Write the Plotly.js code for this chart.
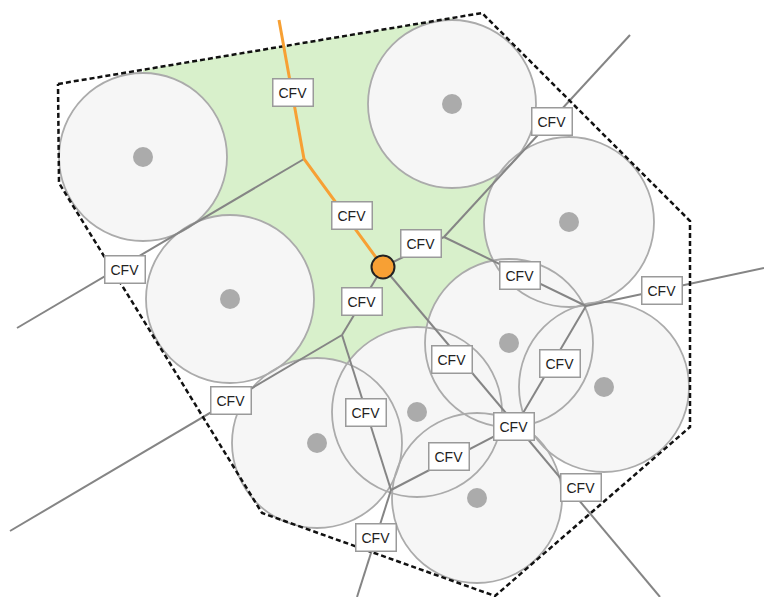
<!DOCTYPE html>
<html>
<head>
<meta charset="utf-8">
<script src="https://cdn.plot.ly/plotly-3.0.1.min.js"></script>
<style>html,body{margin:0;padding:0;background:#fff;}#chart{width:764px;height:597px;}</style>
</head>
<body>
<div id="chart"></div>
<script>
// Sensor disks (centre, radius)
const circleX = [143, 452, 569, 230, 509, 604, 417, 317, 477];
const circleY = [157, 104, 222, 299, 343, 387, 412, 443, 498];
const circleR = [84, 84, 85, 84, 84, 85, 85, 85, 85];
const dotR = 10;

// Dashed boundary (convex hull)
const hullX = [58, 482, 690, 690, 495, 262, 59, 58];
const hullY = [84, 13, 221, 427, 596, 513, 183, 84];

// Green uncovered region (bounded by hull and disk centres)
const greenX = [143, 452, 452, 569, 509, 417, 317, 230, 143];
const greenY = [70, 18, 104, 222, 343, 412, 443, 299, 157];

// Graph nodes
const nodeNames = ['T', 'A', 'O', 'B', 'C', 'D', 'E', 'F', 'NE', 'EAST', 'W1', 'W2', 'S1', 'S2'];
const nodeX = [279, 304, 383, 444, 342, 516, 391, 586, 630, 764, 17, 10, 357, 660];
const nodeY = [20, 159, 267, 237, 335, 425, 490, 306, 35, 268, 328, 531, 597, 597];

// Orange path and gray edges
const orangePath = ['T', 'A', 'O'];
const edgeFrom = ['A', 'O', 'B', 'B', 'F', 'F', 'O', 'O', 'C', 'C', 'E', 'E', 'D'];
const edgeTo   = ['W1', 'B', 'NE', 'F', 'EAST', 'D', 'D', 'C', 'W2', 'E', 'D', 'S1', 'S2'];

// CFV labels
const labelText = 'CFV';
const labelX = [293, 352, 421, 362, 452, 520, 366, 514, 449, 376, 581, 560, 662, 552, 125, 231];
const labelY = [92, 215, 243, 301, 359, 275, 412, 426, 456, 537, 487, 363, 290, 121, 269, 400];

const idx = n => nodeNames.indexOf(n);

const shapes = [];
// green region
let gp = 'M ' + greenX[0] + ',' + greenY[0];
for (let i = 1; i < greenX.length; i++) gp += ' L ' + greenX[i] + ',' + greenY[i];
gp += ' Z';
shapes.push({type: 'path', path: gp, xref: 'x', yref: 'y', layer: 'below',
  fillcolor: 'rgb(216,240,203)', line: {width: 0}});
// disk fills
for (let i = 0; i < circleX.length; i++) {
  shapes.push({type: 'circle', xref: 'x', yref: 'y', layer: 'below',
    x0: circleX[i] - circleR[i], x1: circleX[i] + circleR[i],
    y0: circleY[i] - circleR[i], y1: circleY[i] + circleR[i],
    fillcolor: '#f6f6f6', line: {width: 0}});
}
// disk outlines
for (let i = 0; i < circleX.length; i++) {
  shapes.push({type: 'circle', xref: 'x', yref: 'y', layer: 'below',
    x0: circleX[i] - circleR[i], x1: circleX[i] + circleR[i],
    y0: circleY[i] - circleR[i], y1: circleY[i] + circleR[i],
    fillcolor: 'rgba(0,0,0,0)', line: {color: '#ababab', width: 1.8}});
}
// centre dots
for (let i = 0; i < circleX.length; i++) {
  shapes.push({type: 'circle', xref: 'x', yref: 'y', layer: 'below',
    x0: circleX[i] - dotR, x1: circleX[i] + dotR,
    y0: circleY[i] - dotR, y1: circleY[i] + dotR,
    fillcolor: '#ababab', line: {width: 0}});
}

const traces = [];
// gray edges
const ex = [], ey = [];
for (let i = 0; i < edgeFrom.length; i++) {
  const a = idx(edgeFrom[i]), b = idx(edgeTo[i]);
  ex.push(nodeX[a], nodeX[b], null);
  ey.push(nodeY[a], nodeY[b], null);
}
traces.push({x: ex, y: ey, mode: 'lines', line: {color: '#858585', width: 2},
  hoverinfo: 'skip', showlegend: false});
// dashed hull
traces.push({x: hullX, y: hullY, mode: 'lines',
  line: {color: '#111', width: 2.5, dash: '5px,3px'}, hoverinfo: 'skip', showlegend: false});
// orange path
traces.push({x: orangePath.map(n => nodeX[idx(n)]), y: orangePath.map(n => nodeY[idx(n)]),
  mode: 'lines', line: {color: '#f7a034', width: 3}, hoverinfo: 'skip', showlegend: false});
// orange node
traces.push({x: [nodeX[idx('O')]], y: [nodeY[idx('O')]], mode: 'markers',
  marker: {size: 23, color: '#f7a034', line: {color: '#222', width: 2}},
  hoverinfo: 'skip', showlegend: false});

const annotations = labelX.map((x, i) => ({
  x: x, y: labelY[i], xref: 'x', yref: 'y', text: labelText, showarrow: false,
  font: {family: 'Liberation Sans, Arial, sans-serif', size: 14, color: '#222'},
  bgcolor: '#ffffff', bordercolor: '#9a9a9a', borderwidth: 1.5, borderpad: 5
}));

const layout = {
  width: 764, height: 597,
  margin: {l: 0, r: 0, t: 0, b: 0},
  paper_bgcolor: '#ffffff', plot_bgcolor: '#ffffff',
  xaxis: {range: [0, 764], visible: false, showgrid: false, zeroline: false, fixedrange: true},
  yaxis: {range: [597, 0], visible: false, showgrid: false, zeroline: false, fixedrange: true},
  shapes: shapes, annotations: annotations, showlegend: false
};

Plotly.newPlot('chart', traces, layout, {displayModeBar: false, staticPlot: true});
</script>
</body>
</html>
